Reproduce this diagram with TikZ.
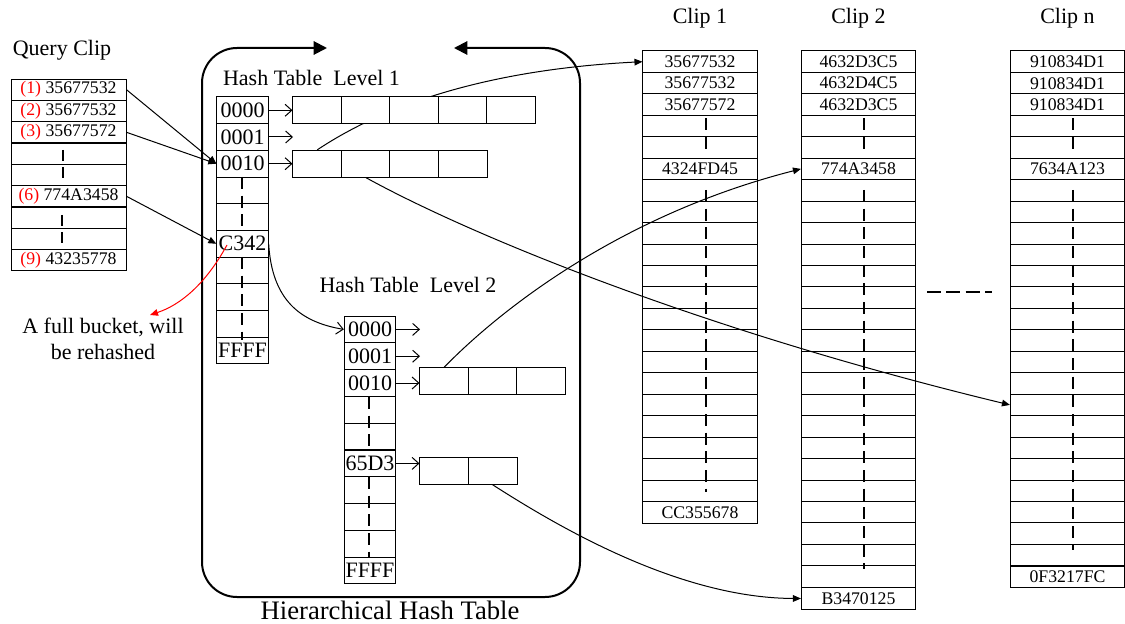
\documentclass[tikz,border=0pt]{standalone}
\usepackage{fontspec}
\setmainfont{Liberation Serif}
\usetikzlibrary{arrows.meta}

\tikzset{every picture/.style={line width=0.75pt}}
\tikzset{
  qcell/.style={draw, minimum width=86.25pt, minimum height=16pt, inner sep=0pt, font=\fontsize{13.3}{14}\selectfont},
  hcell/.style={draw, minimum width=38.5pt, minimum height=20pt, inner sep=0pt, font=\fontsize{16.5}{17}\selectfont},
  bcell/.style={draw, fill=white, minimum width=36.4pt, minimum height=20pt, inner sep=0pt},
  ccell/.style={draw, minimum width=85.6pt, minimum height=16.09pt, inner sep=0pt, font=\fontsize{13.3}{14}\selectfont},
  vdash/.style={line width=2.2pt, dash pattern=on 9pt off 5pt},
  link/.style={-{Triangle[length=6pt,width=5pt]}},
  ptr/.style={-{Straight Barb[length=5pt,width=9pt]}},
  title/.style={font=\fontsize{16.5}{18}\selectfont},
}

\begin{document}
\begin{tikzpicture}[x=0.75pt,y=0.75pt,yscale=-1,xscale=1]
\useasboundingbox (0,0) rectangle (1125,624);

%Shape: Rounded Rectangle with two arrows
\draw [line width=1.5pt, rounded corners=26.25pt, {Triangle[length=10pt,width=10pt]}-{Triangle[length=10pt,width=10pt]}] (327,48) -- (202,48) -- (202,597) -- (580,597) -- (580,48) -- (454,48) ;

% Text Node
\node [title] (qtitle) at (62,50) {Query Clip};
% Text Node
\node [title] (h1title) at (311.5,78) {Hash Table~~Level 1};
% Text Node
\node [title] (h2title) at (408,285) {Hash Table~~Level 2};
% Text Node
\node [font=\fontsize{20}{22}\selectfont] (htitle) at (390,610) {Hierarchical Hash Table};
% Text Node
\node [title] (c1title) at (700,18) {Clip 1};
% Text Node
\node [title] (c2title) at (858.5,18) {Clip 2};
% Text Node
\node [title] (cntitle) at (1067.5,18) {Clip n};
% Text Node
\node [font=\fontsize{16.5}{19.5}\selectfont, align=center] (note) at (103,339) {A full bucket, will\\be rehashed};

%Query clip
\node [qcell] (q1) at (68.5,89.7) {\textcolor{red}{(1)} 35677532};
\node [qcell] (q2) at (68.5,111.0) {\textcolor{red}{(2)} 35677532};
\node [qcell] (q3) at (68.5,132.3) {\textcolor{red}{(3)} 35677572};
\node [qcell] (q4) at (68.5,153.7) {};
\node [qcell] (q5) at (68.5,175.0) {};
\node [qcell] (q6) at (68.5,196.3) {\textcolor{red}{(6)} 774A3458};
\node [qcell] (q7) at (68.5,217.7) {};
\node [qcell] (q8) at (68.5,239.0) {};
\node [qcell] (q9) at (68.5,260.3) {\textcolor{red}{(9)} 43235778};
\draw [vdash, dash pattern=on 8pt off 5pt] (63,150) -- (63,178) ;
\draw [vdash, dash pattern=on 8pt off 5pt] (62,215) -- (62,245) ;

%Hash table level 1
\node [hcell] (h1r1) at (242.5,110.3) {0000};
\node [hcell] (h1r2) at (242.5,137.0) {0001};
\node [hcell] (h1r3) at (242.5,163.7) {0010};
\node [hcell] (h1r4) at (242.5,190.4) {};
\node [hcell] (h1r5) at (242.5,217.1) {};
\node [hcell] (h1r6) at (242.5,243.8) {C342};
\node [hcell] (h1r7) at (242.5,270.5) {};
\node [hcell] (h1r8) at (242.5,297.2) {};
\node [hcell] (h1r9) at (242.5,323.9) {};
\node [hcell] (h1r10) at (242.5,350.6) {FFFF};
\draw [vdash] (242,177) -- (242,230) ;
\draw [vdash] (242,257) -- (242,340) ;

%Hash table level 2
\node [hcell] (h2r1) at (370,329.4) {0000};
\node [hcell] (h2r2) at (370,356.2) {0001};
\node [hcell] (h2r3) at (370,383.0) {0010};
\node [hcell] (h2r4) at (370,409.8) {};
\node [hcell] (h2r5) at (370,436.6) {};
\node [hcell] (h2r6) at (370,463.4) {65D3};
\node [hcell] (h2r7) at (370,490.2) {};
\node [hcell] (h2r8) at (370,517.0) {};
\node [hcell] (h2r9) at (370,543.8) {};
\node [hcell] (h2r10) at (370,570.6) {FFFF};
\draw [vdash] (369,397) -- (369,450) ;
\draw [vdash] (369,477) -- (369,557) ;

%Clip 1
\node [ccell] (c1r1) at (700,61.7) {35677532};
\node [ccell] (c1r2) at (700,83.2) {35677532};
\node [ccell] (c1r3) at (700,104.6) {35677572};
\node [ccell] (c1r6) at (700,168.9) {4324FD45};
\node [ccell] (c1r22) at (700,512.7) {CC355678};
\foreach \k in {4,5} \node [ccell] (c1r\k) at (700,{51+21.45*(\k-0.5)}) {};
\foreach \k in {7,...,21} \node [ccell] (c1r\k) at (700,{51+21.45*(\k-0.5)}) {};
\draw [vdash] (706,118) -- (706,151) ;
\draw [vdash] (706,190) -- (706,492) ;

%Clip 2
\node [ccell] (c2r1) at (858.5,61.7) {4632D3C5};
\node [ccell] (c2r2) at (858.5,83.2) {4632D4C5};
\node [ccell] (c2r3) at (858.5,104.6) {4632D3C5};
\node [ccell] (c2r6) at (858.5,168.9) {774A3458};
\node [ccell] (c2r26) at (858.5,598.5) {B3470125};
\foreach \k in {4,5} \node [ccell] (c2r\k) at (858.5,{51+21.45*(\k-0.5)}) {};
\foreach \k in {7,...,25} \node [ccell] (c2r\k) at (858.5,{51+21.45*(\k-0.5)}) {};
\draw [vdash] (864,118) -- (864,151) ;
\draw [vdash] (864,190) -- (864,569) ;

%Clip n
\node [ccell] (cnr1) at (1067.5,61.7) {910834D1};
\node [ccell] (cnr2) at (1067.5,83.2) {910834D1};
\node [ccell] (cnr3) at (1067.5,104.6) {910834D1};
\node [ccell] (cnr6) at (1067.5,168.9) {7634A123};
\node [ccell] (cnr25) at (1067.5,577.0) {0F3217FC};
\foreach \k in {4,5} \node [ccell] (cnr\k) at (1067.5,{51+21.45*(\k-0.5)}) {};
\foreach \k in {7,...,24} \node [ccell] (cnr\k) at (1067.5,{51+21.45*(\k-0.5)}) {};
\draw [vdash] (1073,118) -- (1073,151) ;
\draw [vdash] (1073,190) -- (1073,550) ;

%Straight Lines: more clips
\draw [line width=2.2pt, dash pattern=on 10.5pt off 4pt] (927,292) -- (992,292) ;

%Buckets of level 1, slot 0010
\node [bcell] (l1b1) at (317.25,163.7) {};
\node [bcell] (l1b2) at (365.75,163.7) {};
\node [bcell] (l1b3) at (414.25,163.7) {};
\node [bcell] (l1b4) at (462.75,163.7) {};
%Curve Lines: bucket to clip 1
\draw [link] (l1b1.north) .. controls (380,108) and (480,70) .. (c1r1.west) ;
%Buckets of level 1, slot 0000
\node [bcell] (l1a1) at (317.25,110.3) {};
\node [bcell] (l1a2) at (365.75,110.3) {};
\node [bcell] (l1a3) at (414.25,110.3) {};
\node [bcell] (l1a4) at (462.75,110.3) {};
\node [bcell] (l1a5) at (511.25,110.3) {};

%Buckets of level 2
\node [bcell] (l2a1) at (444.25,381) {};
\node [bcell] (l2a2) at (492.75,381) {};
\node [bcell] (l2a3) at (541.25,381) {};
\node [bcell] (l2b1) at (444.25,471) {};
\node [bcell] (l2b2) at (492.75,471) {};

%Pointers from the slots
\coordinate (l1free) at (293,137);
\coordinate (l2free1) at (420,329.4);
\coordinate (l2free2) at (420,356.2);
\draw [ptr] (h1r1.east) -- (l1a1.west) ;
\draw [ptr] (h1r2.east) -- (l1free) ;
\draw [ptr] (h1r3.east) -- (l1b1.west) ;
\draw [ptr] (h2r1.east) -- (l2free1) ;
\draw [ptr] (h2r2.east) -- (l2free2) ;
\draw [ptr] (h2r3.east) -- (h2r3.east -| l2a1.west) ;
\draw [ptr] (h2r6.east) -- (h2r6.east -| l2b1.west) ;

%Straight Lines: query to level 1
\draw [link] (q1.east) -- (h1r3.west) ;
\draw [link] (q3.east) -- (h1r3.west) ;
\draw [link] (q6.east) -- (h1r6.west) ;

%Curve Lines
\draw [ptr] (h1r6.east) .. controls (272,300) and (300,322) .. (h2r1.west) ;
\draw [link] (l1b2.south) .. controls (470,235) and (700,330) .. (cnr17.west) ;
\draw [link] (l2a1.north) .. controls (500,310) and (620,215) .. (c2r6.west) ;
\draw [link] (l2b2.south) .. controls (560,528) and (680,598) .. (c2r26.west) ;

%Curve Lines: full bucket
\coordinate (rehash) at (150,315);
\draw [red, -{Triangle[length=6pt,width=5pt]}] (227,245) .. controls (205,285) and (180,305) .. (rehash) ;

\end{tikzpicture}
\end{document}
